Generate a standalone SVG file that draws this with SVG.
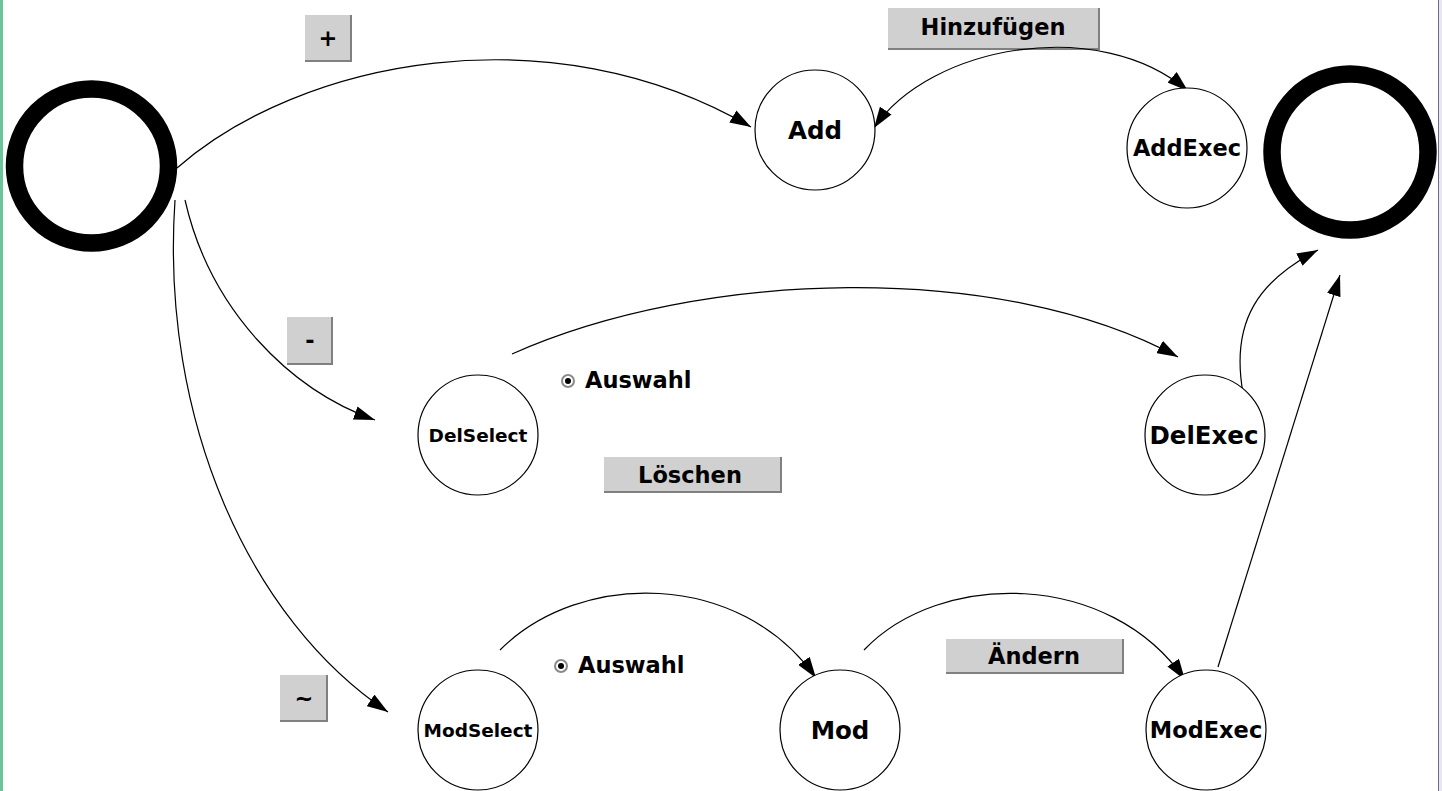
<svg xmlns="http://www.w3.org/2000/svg" width="1442" height="791" viewBox="0 0 1442 791">
<style>
text{font-family:"DejaVu Sans","Verdana",sans-serif;font-weight:bold;fill:#000}
.node{fill:#fff;stroke:#000;stroke-width:1.2}
.term{fill:none;stroke:#000;stroke-width:17.5}
.lbl{font-size:22.5px;text-anchor:middle}
.big{font-size:24.5px;text-anchor:middle}
.sel{font-size:18.5px;text-anchor:middle}
.btn{fill:#d0d0d0}
.sh{fill:none;stroke:#808080;stroke-width:2}
.bt{font-size:22.5px;text-anchor:middle}
.edge{fill:none;stroke:#000;stroke-width:1.2}
.rad{fill:#fff;stroke:#8a8a8a;stroke-width:2}
</style>
<defs>
<marker id="ah" markerUnits="userSpaceOnUse" markerWidth="22" markerHeight="14" viewBox="0 0 22 14" refX="21" refY="7" orient="auto-start-reverse">
<path d="M0,0 L21,7 L0,14 z" fill="#000"/>
</marker>
</defs>
<rect x="0" y="0" width="1442" height="791" fill="#fff"/>
<rect x="0" y="0" width="3" height="791" fill="#6cc49a"/>
<rect x="1439" y="0" width="3" height="791" fill="#e8e6f0"/>
<line x1="1438.5" y1="0" x2="1438.5" y2="791" stroke="#6e6a8a" stroke-width="1"/>

<g id="btn-plus"><rect class="btn" x="305" y="15" width="47" height="47"/><polyline class="sh" points="351,15 351,61 305,61"/><text class="bt" x="328" y="46">+</text></g>
<g id="btn-minus"><rect class="btn" x="287" y="317" width="46" height="48"/><polyline class="sh" points="332,317 332,364 287,364"/><text class="bt" x="310" y="348">-</text></g>
<g id="btn-tilde"><rect class="btn" x="280" y="675" width="48" height="47"/><polyline class="sh" points="327,675 327,721 280,721"/><text class="bt" x="304" y="706">~</text></g>
<g id="btn-hinzu"><rect class="btn" x="888" y="8" width="212" height="42"/><polyline class="sh" points="1099,8 1099,49 888,49"/><text class="bt" x="993" y="35">Hinzufügen</text></g>
<g id="btn-loeschen"><rect class="btn" x="604" y="457" width="178" height="36"/><polyline class="sh" points="781,457 781,492 604,492"/><text class="bt" x="690" y="483">Löschen</text></g>
<g id="btn-aendern"><rect class="btn" x="946" y="639" width="178" height="35"/><polyline class="sh" points="1123,639 1123,673 946,673"/><text class="bt" x="1034" y="664">Ändern</text></g>

<g id="radio-del"><circle class="rad" cx="568" cy="381" r="6"/><circle cx="568" cy="381" r="3" fill="#000"/><text x="585" y="388" style="font-size:22.5px">Auswahl</text></g>
<g id="radio-mod"><circle class="rad" cx="561" cy="666" r="6"/><circle cx="561" cy="666" r="3" fill="#000"/><text x="578" y="673" style="font-size:22.5px">Auswahl</text></g>

<g id="connectors">
<path class="edge" d="M177,168 C300,60 550,10 751,127" marker-end="url(#ah)"/>
<path class="edge" d="M874,128 C930,45 1100,15 1188,91" marker-start="url(#ah)" marker-end="url(#ah)"/>
<path class="edge" d="M185,200 C210,310 290,390 375,420" marker-end="url(#ah)"/>
<path class="edge" d="M175,200 C160,420 250,620 388,712" marker-end="url(#ah)"/>
<path class="edge" d="M512,354 C700,270 1000,260 1178,357" marker-end="url(#ah)"/>
<path class="edge" d="M1243,393 C1230,320 1260,280 1318,250" marker-end="url(#ah)"/>
<path class="edge" d="M500,650 C580,570 740,570 816,678" marker-end="url(#ah)"/>
<path class="edge" d="M864,650 C940,570 1110,570 1185,680" marker-end="url(#ah)"/>
<path class="edge" d="M1218,667 L1340,275" marker-end="url(#ah)"/>
</g>

<g id="start"><circle class="term" cx="91.5" cy="166" r="77"/></g>
<g id="end"><circle class="term" cx="1350" cy="152" r="78"/></g>

<g id="add"><circle class="node" cx="815" cy="130" r="60"/><text class="big" x="815" y="139">Add</text></g>
<g id="addexec"><circle class="node" cx="1187" cy="148" r="60"/><text class="lbl" x="1187" y="156">AddExec</text></g>
<g id="delselect"><circle class="node" cx="478" cy="435" r="60"/><text class="sel" x="478" y="442">DelSelect</text></g>
<g id="delexec"><circle class="node" cx="1205" cy="435" r="60"/><text class="big" x="1204" y="444">DelExec</text></g>
<g id="modselect"><circle class="node" cx="478" cy="730" r="60"/><text class="sel" x="478" y="737">ModSelect</text></g>
<g id="mod"><circle class="node" cx="840" cy="730" r="60"/><text class="big" x="840" y="739">Mod</text></g>
<g id="modexec"><circle class="node" cx="1206" cy="730" r="60"/><text class="lbl" x="1206" y="738">ModExec</text></g>
</svg>
